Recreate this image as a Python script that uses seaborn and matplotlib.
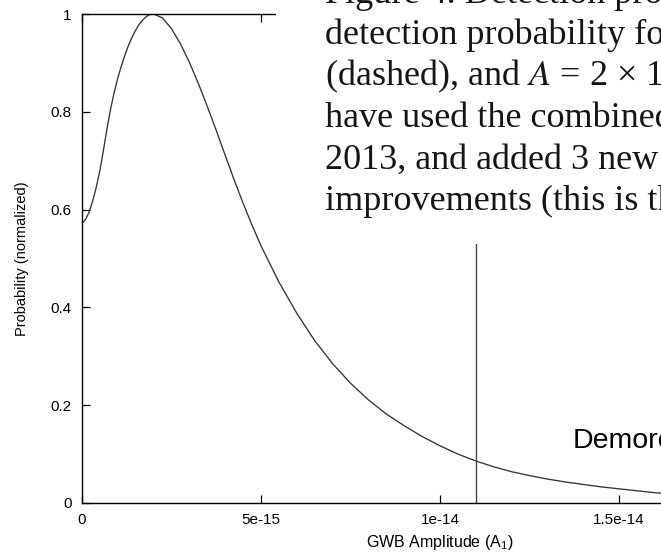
import numpy as np
import pandas as pd
import matplotlib
matplotlib.use("Agg")
import matplotlib.pyplot as plt
import seaborn as sns
from matplotlib.patches import Rectangle

# ---- data (amplitude in units of 1e-15) ----
amp_e15 = [0.0, 0.1, 0.2, 0.3, 0.4, 0.5, 0.6, 0.7, 0.8, 0.9, 1.0, 1.1, 1.2, 1.3, 1.4,
           1.5, 1.6, 1.7, 1.8, 1.9, 2.0, 2.25, 2.5, 2.75, 3.0, 3.25, 3.5, 3.75, 4.0,
           4.25, 4.5, 4.75, 5.0, 5.5, 6.0, 6.5, 7.0, 7.5, 8.0, 8.5, 9.0, 9.5, 10.0,
           10.5, 11.0, 11.5, 12.0, 12.5, 13.0, 13.5, 14.0, 14.5, 15.0, 15.5, 16.0, 16.5]
prob = [0.572, 0.580, 0.595, 0.618, 0.646, 0.680, 0.722, 0.766, 0.806, 0.840, 0.869,
        0.894, 0.916, 0.936, 0.953, 0.967, 0.979, 0.988, 0.995, 0.999, 1.000, 0.992,
        0.970, 0.939, 0.901, 0.858, 0.811, 0.762, 0.711, 0.661, 0.613, 0.568, 0.526,
        0.452, 0.388, 0.332, 0.285, 0.245, 0.211, 0.182, 0.158, 0.136, 0.117, 0.100,
        0.086, 0.074, 0.064, 0.056, 0.049, 0.043, 0.038, 0.033, 0.029, 0.025, 0.021,
        0.018]
demorest_limit = 1.1e-14

x_ticks = [0, 5e-15, 1e-14, 1.5e-14, 2e-14]
x_tick_labels = ["0", "5e-15", "1e-14", "1.5e-14", "2e-14"]
y_ticks = [0, 0.2, 0.4, 0.6, 0.8, 1.0]
y_tick_labels = ["0", "0.2", "0.4", "0.6", "0.8", "1"]

x_label = r"GWB Amplitude (A$_{\mathrm{1}}$)"
y_label = "Probability (normalized)"
annotation = "Demorest"
paper_lines = [
    "Figure 4. Detection probability",
    "detection probability for",
    r"(dashed), and $A$ = 2 × 10$^{-15}$",
    "have used the combined",
    "2013, and added 3 new pulsars",
    "improvements (this is the",
]

# ---- style ----
sns.set_theme(style="ticks")
sans = "Liberation Sans"
plt.rcParams["font.family"] = [sans, "DejaVu Sans"]
plt.rcParams["mathtext.fontset"] = "custom"
plt.rcParams["mathtext.rm"] = sans
plt.rcParams["mathtext.it"] = sans + ":italic"
plt.rcParams["mathtext.bf"] = sans + ":bold"

W, H = 661, 553
fig = plt.figure(figsize=(W / 100, H / 100), dpi=100)
fig.patch.set_facecolor("white")

# axes: x from px 82 (0) to px 798 (2e-14), y from px 503 (0) to px 14 (1)
ax = fig.add_axes([82 / W, (H - 503) / H, 716 / W, 489 / H])
ax.set_facecolor("white")

df = pd.DataFrame({"amp": np.array(amp_e15) * 1e-15, "prob": prob})
sns.lineplot(data=df, x="amp", y="prob", ax=ax, color="#333333", linewidth=0.95)
ax.axvline(demorest_limit, color="#444444", linewidth=0.95)

ax.set_xlim(0, 2e-14)
ax.set_ylim(0, 1)
ax.set_xticks(x_ticks, x_tick_labels)
ax.set_yticks(y_ticks, y_tick_labels)
ax.tick_params(axis="both", direction="in", length=5.5, width=0.9, color="black",
               top=True, right=True, labelsize=11, labelcolor="black")
ax.tick_params(axis="y", pad=7.5)
ax.tick_params(axis="x", pad=7)
for s in ax.spines.values():
    s.set_linewidth(1.0)
    s.set_color("black")
    s.set_visible(True)

ax.set_xlabel(x_label, fontsize=11.5, color="black")
ax.set_ylabel(y_label, fontsize=10.5, color="black")
ax.xaxis.label.set_va("center")
ax.yaxis.label.set_va("center")
ax.xaxis.set_label_coords(0.5, -(542 - 503) / 489)
ax.yaxis.set_label_coords((22 - 82) / 716, 0.5)

# annotation inside plot
fig.text(573 / W, 1 - 448 / H, annotation, fontsize=20.5, color="black",
         ha="left", va="baseline", family=[sans, "DejaVu Sans"], zorder=12)

# overlaid paper-text block (white patch covering top-right)
fig.patches.append(Rectangle((276 / W, 1 - 244 / H), 1 - 276 / W, 244 / H,
                             transform=fig.transFigure, facecolor="white",
                             edgecolor="none", zorder=10))
baseline0 = 3
spacing = 41.4
for i, line in enumerate(paper_lines):
    t = fig.text(325 / W, 1 - (baseline0 + i * spacing) / H, line, fontsize=26,
                 color="#151515", ha="left", va="baseline",
                 family=["Liberation Serif", "DejaVu Serif"], zorder=11)
    t.set_math_fontfamily("stix")

fig.savefig("out.png", dpi=100)
